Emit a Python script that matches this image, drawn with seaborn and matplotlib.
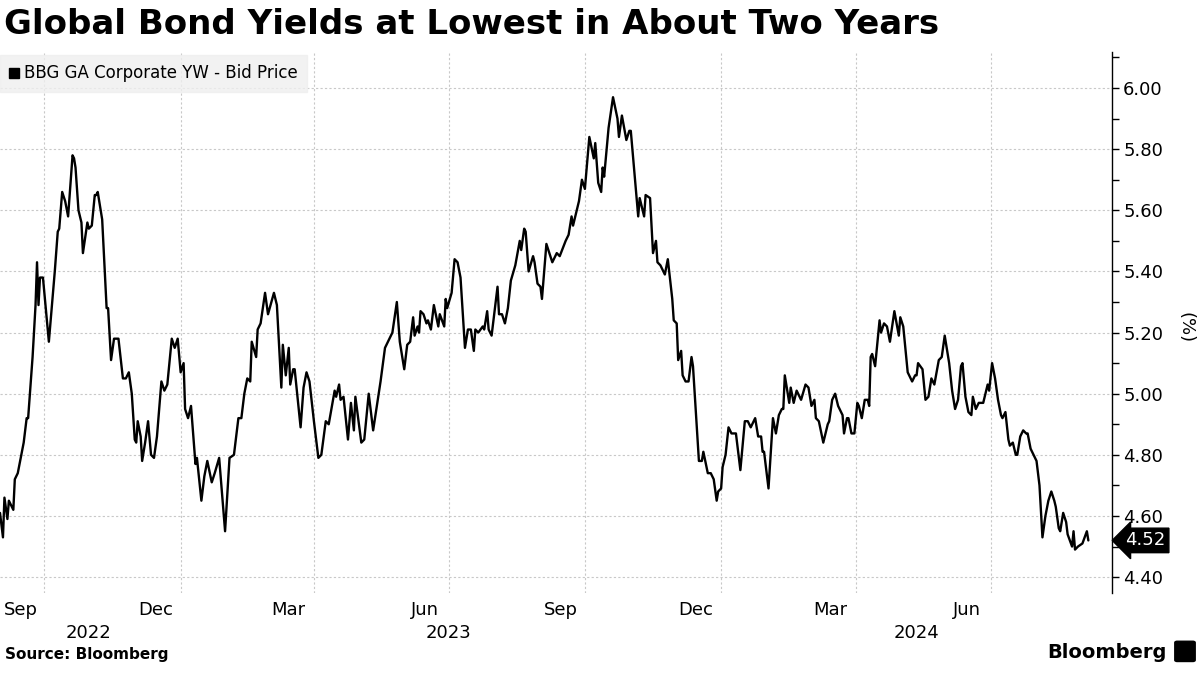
import matplotlib
matplotlib.use('Agg')
import matplotlib.pyplot as plt
import matplotlib.dates as mdates
import matplotlib.transforms as mtransforms
from matplotlib.ticker import MultipleLocator, FormatStrFormatter, FixedLocator
from matplotlib.lines import Line2D
from matplotlib.patches import FancyBboxPatch
import seaborn as sns
import pandas as pd

# days since 1 Sep 2022 and yield (%)
day = [0, 2, 3, 5, 6, 9, 10, 12, 16, 18, 19, 22, 24, 25, 26, 27, 29, 33, 37, 39,
       40, 42, 44, 46, 49, 50, 51, 53, 55, 56, 59, 60, 62, 64, 65, 66, 69, 72, 73, 75,
       77, 80, 83, 85, 87, 89, 91, 92, 93, 95, 96, 98, 100, 102, 104, 106, 109, 111, 113, 116,
       118, 120, 122, 124, 125, 127, 129, 132, 133, 136, 138, 140, 143, 145, 148, 152, 155, 158, 161, 163,
       165, 167, 169, 170, 173, 174, 176, 179, 181, 185, 187, 190, 191, 193, 195, 196, 198, 199, 203, 205,
       207, 209, 212, 215, 217, 220, 222, 226, 227, 229, 230, 232, 235, 237, 239, 240, 244, 246, 249, 252,
       257, 260, 263, 265, 268, 270, 273, 275, 277, 279, 280, 282, 283, 284, 286, 288, 289, 291, 293, 296,
       297, 300, 301, 302, 305, 307, 309, 311, 314, 316, 318, 320, 321, 323, 326, 327, 329, 330, 332, 334,
       336, 337, 339, 341, 343, 345, 348, 351, 352, 354, 355, 357, 360, 361, 363, 365, 366, 369, 373, 376,
       378, 382, 384, 386, 387, 391, 393, 395, 398, 401, 402, 404, 406, 407, 408, 411, 414, 417, 418, 420,
       423, 425, 426, 431, 432, 435, 436, 439, 441, 443, 444, 446, 449, 451, 454, 455, 457, 458, 460, 461,
       463, 465, 467, 468, 472, 474, 475, 478, 480, 482, 484, 485, 487, 488, 490, 492, 494, 497, 500, 503,
       505, 507, 510, 512, 514, 515, 516, 519, 522, 524, 526, 528, 529, 530, 533, 534, 536, 538, 541, 544,
       546, 548, 550, 551, 553, 556, 559, 560, 562, 564, 566, 569, 570, 572, 573, 575, 577, 579, 580, 582,
       584, 586, 587, 588, 589, 591, 594, 595, 597, 599, 601, 604, 607, 608, 610, 613, 616, 618, 619, 620,
       623, 625, 627, 629, 631, 634, 636, 638, 641, 643, 645, 647, 649, 650, 652, 654, 656, 657, 659, 661,
       663, 664, 667, 668, 670, 672, 674, 676, 677, 679, 681, 682, 684, 686, 687, 689, 691, 693, 694, 696,
       698, 700, 702, 704, 706, 708, 710, 712, 713, 715, 716, 718, 720, 721, 724, 725, 726, 728, 731, 734,
       735]
yld = [4.61, 4.53, 4.66, 4.59, 4.65, 4.62, 4.72, 4.74, 4.84, 4.92, 4.92, 5.12, 5.29, 5.43, 5.29, 5.38, 5.38, 5.17, 5.40, 5.53,
       5.54, 5.66, 5.63, 5.58, 5.78, 5.77, 5.74, 5.60, 5.56, 5.46, 5.56, 5.54, 5.55, 5.65, 5.65, 5.66, 5.57, 5.28, 5.28, 5.11,
       5.18, 5.18, 5.05, 5.05, 5.07, 5.00, 4.85, 4.84, 4.91, 4.86, 4.78, 4.84, 4.91, 4.80, 4.79, 4.86, 5.04, 5.01, 5.03, 5.18,
       5.15, 5.18, 5.07, 5.10, 4.95, 4.92, 4.96, 4.77, 4.79, 4.65, 4.73, 4.78, 4.71, 4.74, 4.79, 4.55, 4.79, 4.80, 4.92, 4.92,
       5.00, 5.05, 5.04, 5.17, 5.12, 5.21, 5.23, 5.33, 5.26, 5.33, 5.29, 5.02, 5.16, 5.06, 5.15, 5.03, 5.08, 5.08, 4.89, 5.02,
       5.07, 5.04, 4.91, 4.79, 4.80, 4.91, 4.90, 5.01, 4.99, 5.03, 4.98, 4.99, 4.85, 4.97, 4.88, 4.99, 4.84, 4.85, 5.00, 4.88,
       5.04, 5.15, 5.18, 5.20, 5.30, 5.17, 5.08, 5.16, 5.17, 5.25, 5.19, 5.22, 5.20, 5.27, 5.26, 5.23, 5.24, 5.21, 5.29, 5.22,
       5.26, 5.22, 5.31, 5.28, 5.33, 5.44, 5.43, 5.38, 5.15, 5.21, 5.21, 5.14, 5.21, 5.20, 5.22, 5.21, 5.27, 5.21, 5.19, 5.27,
       5.35, 5.26, 5.26, 5.23, 5.28, 5.37, 5.42, 5.50, 5.47, 5.54, 5.53, 5.40, 5.45, 5.43, 5.36, 5.35, 5.31, 5.49, 5.43, 5.46,
       5.45, 5.50, 5.52, 5.58, 5.55, 5.63, 5.70, 5.67, 5.84, 5.77, 5.82, 5.69, 5.66, 5.74, 5.71, 5.87, 5.97, 5.90, 5.84, 5.91,
       5.83, 5.86, 5.86, 5.58, 5.64, 5.58, 5.65, 5.64, 5.46, 5.50, 5.43, 5.42, 5.39, 5.44, 5.31, 5.24, 5.23, 5.11, 5.14, 5.06,
       5.04, 5.04, 5.12, 5.09, 4.78, 4.78, 4.81, 4.74, 4.74, 4.72, 4.65, 4.68, 4.69, 4.76, 4.80, 4.89, 4.87, 4.87, 4.75, 4.91,
       4.91, 4.89, 4.92, 4.86, 4.86, 4.81, 4.81, 4.69, 4.92, 4.87, 4.93, 4.95, 4.95, 5.06, 4.97, 5.02, 4.97, 5.01, 4.98, 5.03,
       5.02, 4.96, 4.98, 4.92, 4.91, 4.84, 4.90, 4.91, 4.98, 5.00, 4.96, 4.93, 4.87, 4.92, 4.92, 4.87, 4.87, 4.97, 4.96, 4.92,
       4.98, 4.98, 4.96, 5.12, 5.13, 5.09, 5.24, 5.20, 5.23, 5.22, 5.17, 5.27, 5.19, 5.25, 5.22, 5.07, 5.04, 5.06, 5.06, 5.10,
       5.08, 4.98, 4.99, 5.05, 5.03, 5.11, 5.12, 5.19, 5.10, 5.01, 4.95, 4.98, 5.09, 5.10, 4.99, 4.94, 4.93, 4.99, 4.95, 4.97,
       4.97, 4.97, 5.03, 5.01, 5.10, 5.05, 4.98, 4.93, 4.92, 4.94, 4.85, 4.83, 4.84, 4.80, 4.80, 4.86, 4.88, 4.87, 4.87, 4.82,
       4.80, 4.78, 4.70, 4.53, 4.60, 4.65, 4.68, 4.65, 4.63, 4.56, 4.55, 4.61, 4.58, 4.54, 4.50, 4.55, 4.49, 4.50, 4.51, 4.55,
       4.52]

series_name = 'BBG GA Corporate YW - Bid Price'
title = 'Global Bond Yields at Lowest in About Two Years'
month_pos = ['2022-09-15', '2022-12-15', '2023-03-15', '2023-06-15',
             '2023-09-15', '2023-12-15', '2024-03-15', '2024-06-15']
years = ['2022', '2023', '2024']
year_pos = ['2022-10-31', '2023-07-01', '2024-05-12']

start = pd.Timestamp('2022-09-01')
df = pd.DataFrame({'date': start + pd.to_timedelta(day, unit='D'), 'yield': yld})

sns.set_style('white')
plt.rcParams['font.family'] = ['DejaVu Sans']
plt.rcParams['text.color'] = 'black'
plt.rcParams['axes.labelcolor'] = 'black'
plt.rcParams['xtick.color'] = 'black'
plt.rcParams['ytick.color'] = 'black'

fig = plt.figure(figsize=(12, 6.75), dpi=100)
ax = fig.add_axes([0.0, 0.1215, 0.9267, 0.8015])

sns.lineplot(data=df, x='date', y='yield', color='black', linewidth=1.7, ax=ax)

ax.set_xlim(pd.Timestamp('2022-09-01'), pd.Timestamp('2024-09-21'))
ax.set_ylim(4.348, 6.118)

# x axis: gridlines at quarter starts, month labels mid-month
ax.xaxis.set_major_locator(mdates.MonthLocator(bymonth=[1, 4, 7, 10]))
ax.xaxis.set_major_formatter(plt.NullFormatter())
ax.xaxis.set_minor_locator(FixedLocator(mdates.date2num(pd.to_datetime(month_pos))))
ax.xaxis.set_minor_formatter(mdates.DateFormatter('%b'))
ax.tick_params(axis='x', which='both', length=0, pad=6, labelsize=13, labelcolor='black')
for lab in ax.get_xticklabels(minor=True):
    lab.set_family(['Liberation Sans Narrow', 'DejaVu Sans'])

# y axis on the right
ax.yaxis.tick_right()
ax.yaxis.set_major_locator(MultipleLocator(0.2))
ax.yaxis.set_minor_locator(MultipleLocator(0.1))
ax.yaxis.set_major_formatter(FormatStrFormatter('%.2f'))
ax.tick_params(axis='y', which='both', direction='out', length=5, width=1,
               color='black', labelcolor='black', labelsize=13, pad=3, right=True, left=False)
ax.yaxis.set_label_position('right')
ax.set_ylabel('(%)', rotation=270, fontsize=13, va='bottom', color='black')
ax.yaxis.set_label_coords(1.058, 0.49)
ax.set_xlabel('')

ax.grid(True, which='major', color='#c8c8c8', linestyle=(0, (2, 2)), linewidth=0.8)
ax.grid(False, which='minor')
for s in ['left', 'top', 'bottom']:
    ax.spines[s].set_visible(False)
ax.spines['right'].set_color('black')
ax.spines['right'].set_linewidth(1)

# year labels under the months
trans = mtransforms.blended_transform_factory(ax.transData, ax.transAxes)
for yr, pos in zip(years, year_pos):
    ax.text(pd.Timestamp(pos), -0.074, yr, transform=trans, ha='center', va='center',
            fontsize=13, color='black', family=['Liberation Sans Narrow', 'DejaVu Sans'])

# last value tag
trans_y = mtransforms.blended_transform_factory(ax.transAxes, ax.transData)
ax.text(1.012, yld[-1], f'{yld[-1]:.2f}', transform=trans_y, ha='left', va='center',
        fontsize=13, color='white',
        bbox=dict(boxstyle='larrow,pad=0.18', fc='black', ec='black'))

# legend
handle = Line2D([], [], marker='s', color='black', linestyle='none', markersize=7.5)
leg = ax.legend([handle], [series_name], loc='upper left', bbox_to_anchor=(0.0, 0.994),
                borderaxespad=0, frameon=True, fancybox=False, fontsize=12,
                handlelength=0.6, handletextpad=0.3, borderpad=0.55)
leg.get_frame().set_facecolor('#efefef')
leg.get_frame().set_edgecolor('#efefef')
for t in leg.get_texts():
    t.set_color('black')

fig.text(0.003, 0.988, title, ha='left', va='top', fontsize=24.5, fontweight='bold', color='black')
fig.text(0.004, 0.019, 'Source: Bloomberg', ha='left', va='bottom', fontsize=11,
         fontweight='bold', color='black')
fig.text(0.972, 0.019, 'Bloomberg', ha='right', va='bottom', fontsize=14,
         fontweight='bold', color='black')
fig.patches.append(FancyBboxPatch((0.981, 0.022), 0.013, 0.026, boxstyle='round,pad=0.002',
                                  transform=fig.transFigure, fc='black', ec='black'))

fig.savefig('out.png', dpi=100)
